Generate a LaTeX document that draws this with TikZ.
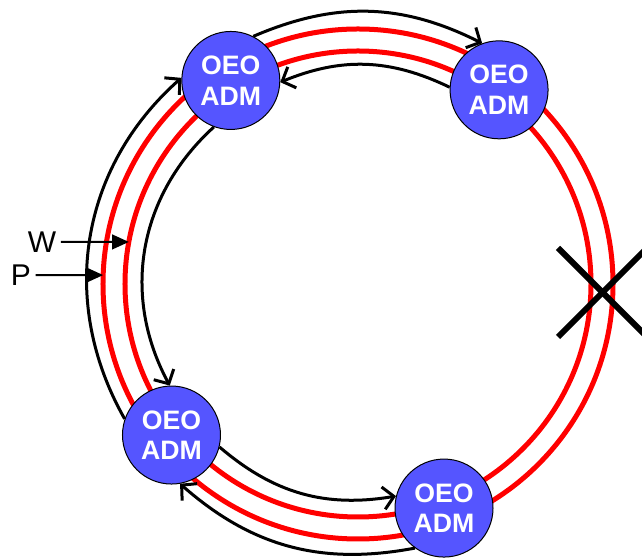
\documentclass[tikz,border=0pt]{standalone}
\usepackage{fontspec}
\setmainfont{Liberation Sans}
\usetikzlibrary{arrows.meta}
\definecolor{admblue}{RGB}{85,85,255}

\begin{document}
\begin{tikzpicture}[x=0.75pt,y=0.75pt,
    adm/.style={circle,draw,line width=0.75pt,fill=admblue,minimum size=73.5pt,inner sep=0pt,
      text=white,font=\fontsize{20}{23}\selectfont\bfseries,align=center},
    fibre/.style={red,line width=3.75pt},
    lightpath/.style={line width=2.25pt,-{Straight Barb[length=8pt,width=17pt]}},
    tag/.style={font=\fontsize{22.5}{26}\selectfont},
    tagarrow/.style={line width=1.5pt,-{Triangle[length=12.5pt,width=11pt]}}]
    \useasboundingbox (-358,-275) rectangle (284,284);
    % working and protection rings
    \draw[fibre] (0,0) circle[radius=233];
    \draw[fibre] (0,0) circle[radius=255];
    % add/drop multiplexers
    \node[adm] (oeoA) at (122:240) {OEO\\ADM};
    \node[adm] (oeoB) at (54:240) {OEO\\ADM};
    \node[adm] (oeoC) at (219:240) {OEO\\ADM};
    \node[adm] (oeoD) at (291:240) {OEO\\ADM};
    % light paths between neighbours
    \draw[lightpath] (oeoA.63) to[bend left=25] (oeoB.110);
    \draw[lightpath] (oeoB.177) to[bend right=24] (oeoA.358);
    \draw[lightpath] (oeoC.161) to[bend left=39] (oeoA.177);
    \draw[lightpath] (oeoA.250) to[bend right=38] (oeoC.92);
    \draw[lightpath] (oeoC.346) to[bend right=25] (oeoD.166);
    \draw[lightpath] (oeoD.234) to[bend left=26] (oeoC.280);
    % fibre cut
    \draw[line width=4.5pt] (200,36) -- (290,-54);
    \draw[line width=4.5pt] (200,-53) -- (290,37);
    % ring labels
    \coordinate (wmark) at (169.6:233);
    \coordinate (pmark) at (178:255);
    \node[tag] (lblW) at (-316,42) {W};
    \node[tag] (lblP) at (-337,9) {P};
    \draw[tagarrow] (lblW) -- (wmark);
    \draw[tagarrow] (lblP) -- (pmark);
\end{tikzpicture}
\end{document}
